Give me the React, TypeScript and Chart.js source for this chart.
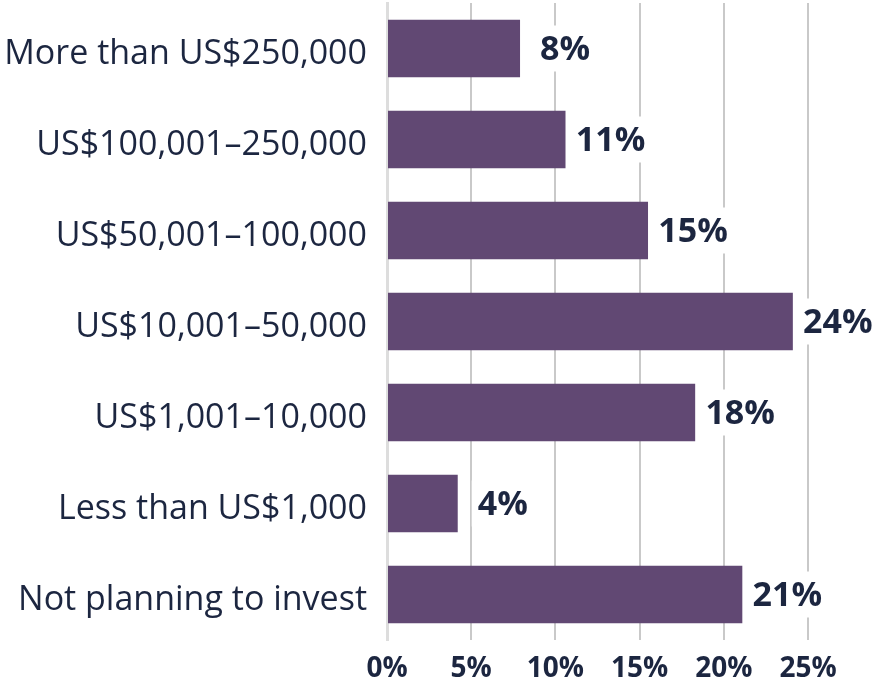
import React, { useEffect, useRef } from "react";
import { Chart, registerables } from "chart.js";

Chart.register(...registerables);

const categories = [
  "More than US$250,000",
  "US$100,001\u2013250,000",
  "US$50,001\u2013100,000",
  "US$10,001\u201350,000",
  "US$1,001\u201310,000",
  "Less than US$1,000",
  "Not planning to invest",
];
const values = [7.9, 10.6, 15.5, 24.1, 18.3, 4.2, 21.1];
const valueLabels = ["8%", "11%", "15%", "24%", "18%", "4%", "21%"];
const xTicks = [0, 5, 10, 15, 20, 25];

const FONT = "'Open Sans', 'DejaVu Sans', sans-serif";
const TEXT = "#1c2640";
const BAR = "#614873";

const labelPlugin = {
  id: "valueLabels",
  afterDatasetsDraw(chart: any) {
    const ctx = chart.ctx;
    const meta = chart.getDatasetMeta(0);
    ctx.save();
    ctx.font = `bold 34px ${FONT}`;
    ctx.textAlign = "center";
    ctx.textBaseline = "middle";
    meta.data.forEach((bar: any, i: number) => {
      const txt = valueLabels[i];
      const cx = bar.x + 45;
      const cy = bar.y;
      const w = ctx.measureText(txt).width + 12;
      ctx.fillStyle = "#ffffff";
      ctx.fillRect(cx - w / 2, cy - 23, w, 46);
      ctx.fillStyle = TEXT;
      ctx.fillText(txt, cx, cy + 2);
    });
    ctx.restore();
  },
};

export default function App() {
  const ref = useRef<HTMLCanvasElement | null>(null);
  useEffect(() => {
    if (!ref.current) return;
    const chart = new Chart(ref.current, {
      type: "bar",
      data: {
        labels: categories,
        datasets: [
          {
            data: values,
            backgroundColor: BAR,
            borderWidth: 0,
            categoryPercentage: 1,
            barPercentage: 0.63,
          },
        ],
      },
      options: {
        indexAxis: "y",
        animation: false,
        responsive: false,
        maintainAspectRatio: false,
        layout: { padding: { top: 3, right: 67, left: 0, bottom: 0 } },
        plugins: { legend: { display: false }, tooltip: { enabled: false } },
        scales: {
          x: {
            min: 0,
            max: 25,
            afterBuildTicks: (scale: any) => {
              scale.ticks = xTicks.map((v) => ({ value: v }));
            },
            afterFit: (scale: any) => {
              scale.height = 39;
              scale.paddingLeft = 0;
              scale.paddingRight = 0;
            },
            border: { display: false },
            grid: {
              drawTicks: false,
              lineWidth: 2,
              color: (c: any) => (c.tick && c.tick.value === 0 ? "rgba(0,0,0,0)" : "#c9c9c9"),
            },
            ticks: {
              padding: 12,
              color: TEXT,
              font: { family: FONT, size: 28, weight: "bold" },
              callback: (v: any) => `${v}%`,
              maxRotation: 0,
            },
          },
          y: {
            afterFit: (scale: any) => {
              scale.width = 387;
              scale.paddingTop = 0;
              scale.paddingBottom = 0;
            },
            border: { display: true, color: "#dddddd", width: 3 },
            grid: { display: false, drawTicks: false },
            ticks: {
              padding: 20,
              labelOffset: 6,
              color: TEXT,
              font: { family: FONT, size: 34 },
            },
          },
        },
      },
      plugins: [labelPlugin],
    } as any);
    return () => chart.destroy();
  }, []);
  return (
    <div style={{ position: "fixed", left: 0, top: 0, width: 875, height: 679, background: "#fff" }}>
      <canvas ref={ref} width={875} height={679} style={{ width: 875, height: 679 }} />
    </div>
  );
}
